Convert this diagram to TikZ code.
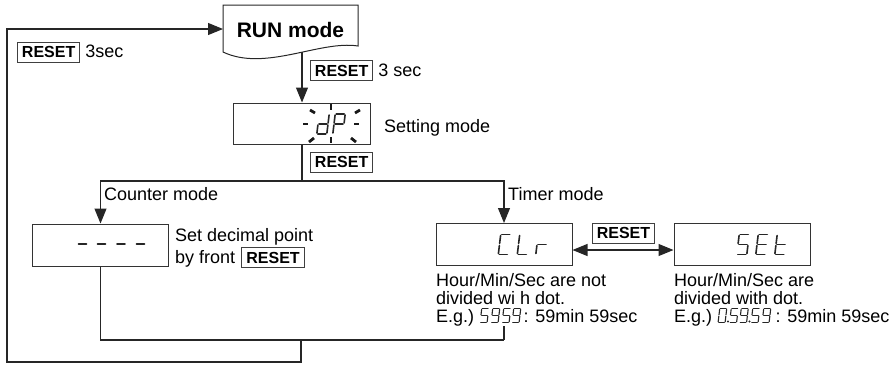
\documentclass[tikz,border=0pt]{standalone}
\usepackage{fontspec}
\setmainfont{Liberation Sans}
\usetikzlibrary{arrows.meta,positioning}
\newcommand{\segA}{(-4,-10)--(4,-10)}
\newcommand{\segB}{(5,-9)--(5,-1)}
\newcommand{\segC}{(5,1)--(5,9)}
\newcommand{\segD}{(-4,10)--(4,10)}
\newcommand{\segE}{(-5,1)--(-5,9)}
\newcommand{\segF}{(-5,-9)--(-5,-1)}
\newcommand{\segG}{(-4,0)--(4,0)}
\newcommand{\segglyph}[3]{%
  \pgfmathsetmacro\seglw{#2*0.08}%
  \edef\seglist{#3}%
  \begin{scope}[shift={(#1)},xslant=0.12,scale=#2/20,line width=\seglw pt,line cap=round,draw=black!85]
    \foreach \s in \seglist {\edef\segpath{\noexpand\draw \csname seg\s\endcsname;}\segpath}
  \end{scope}}
\tikzset{
  every node/.style={inner sep=0pt,font=\fontsize{18}{18}\selectfont},
  flow/.style={draw=black!85,line width=1.1pt},
  arrow/.style={flow,-{Triangle[length=15pt,width=12pt]}},
  twoway/.style={flow,{Triangle[length=15pt,width=12pt]}-{Triangle[length=15pt,width=12pt]}},
  lcdbox/.style={draw=black!80,line width=1pt,minimum width=136pt,minimum height=42pt},
  resetbox/.style={draw=black!75,line width=0.9pt,inner xsep=4.5pt,inner ysep=4.25pt,
    text height=11.5pt,text depth=0pt,font=\fontsize{16}{16}\selectfont\bfseries},
  ray/.style={draw=black!90,line width=2.8pt},
}
\begin{document}
\begin{tikzpicture}[x=1pt,y=-1pt]
\useasboundingbox (0,0) rectangle (896,365);

\node[font=\fontsize{21}{21}\selectfont\bfseries,anchor=base] (run) at (290.5,37.5) {RUN mode};
\draw[flow,line width=1pt] (223,5) -- (358,5) -- (358,46) .. controls (320,40) and (265,72) .. (223,52) -- cycle;
\coordinate (runbot) at (302,52);
\coordinate (runin) at (223,29);

\node[resetbox,anchor=base west] (rst1) at (17,57.75) {RESET};
\node[anchor=base west] (sec1) at ([xshift=5pt]rst1.base east) {3sec};
\node[resetbox,anchor=base west] (rst2) at (310,76) {RESET};
\node[anchor=base west] (sec2) at ([xshift=5pt]rst2.base east) {3 sec};

\node[lcdbox,minimum width=137pt,minimum height=41pt] (setmode) at (302,123.5) {};
\segglyph{323,124}{20}{B,C,D,E,G}
\segglyph{339,124}{20}{A,B,E,F,G}
\foreach \xa/\ya/\xb/\yb in {303/124/308/124,354/124/359/124,331/104/331/110,331/137/331/143,
  310/110/315/113,355/113/360/110,309/142/314/138,351/138/356/142}
  \draw[ray] (\xa,\ya) -- (\xb,\yb);
\node[anchor=base west] (settext) at (384,132.5) {Setting mode};
\node[resetbox,anchor=base west] (rst3) at (310,167.75) {RESET};

\coordinate (split) at (302,181);
\node[anchor=base west] (cnttext) at (104,200.5) {Counter mode};
\node[anchor=base west] (tmrtext) at (508,200.5) {Timer mode};

\node[lcdbox] (cntdisp) at (100.5,245) {};
\foreach \cx in {82.5,101.5,121,140.5} {\segglyph{\cx,244}{20}{G}}
\node[anchor=base west] (decpt) at (175,241.5) {Set decimal point};
\node[anchor=base west] (byfront) at (175,263.5) {by front};
\node[resetbox,anchor=base west] (rst4) at ([xshift=6pt]byfront.base east) {RESET};

\node[lcdbox] (clrdisp) at (504,244.5) {};
\segglyph{504.5,244.5}{20}{A,D,E,F}
\segglyph{523.5,244.5}{20}{D,E,F}
\segglyph{542,244.5}{20}{E,G}
\node[lcdbox] (setdisp) at (742,244.5) {};
\segglyph{743,244.5}{20}{A,C,D,F,G}
\segglyph{762,244.5}{20}{A,D,E,F,G}
\segglyph{781,244.5}{20}{D,E,F,G}
\draw[twoway] ([yshift=-5.5pt]clrdisp.east) -- ([yshift=-5.5pt]setdisp.west);
\node[resetbox] (rst5) at (623.5,233) {RESET};

\node[anchor=base west] (clrn1) at (436,286.5) {Hour/Min/Sec are not};
\node[anchor=base west] (clrn2) at (436,304.5) {divided wi h dot.};
\node[anchor=base west] (clrn3) at (436,322.5) {E.g.)};
\foreach \dx/\segs in {10/{A,F,G,C,D},21/{A,B,C,D,F,G},32/{A,F,G,C,D},42/{A,B,C,D,F,G}}
  {\segglyph{[xshift=\dx pt,yshift=7pt]clrn3.base east}{14}{\segs}}
\node[anchor=base west] (clrn4) at ([xshift=49pt]clrn3.base east) {: 59min 59sec};

\node[anchor=base west] (setn1) at (674,286.5) {Hour/Min/Sec are};
\node[anchor=base west] (setn2) at (674,304.5) {divided with dot.};
\node[anchor=base west] (setn3) at (674,322.5) {E.g.)};
\foreach \dx/\segs in {10/{A,B,C,D,E,F},21.5/{A,F,G,C,D},31.5/{A,B,C,D,F,G},43/{A,F,G,C,D},54/{A,B,C,D,F,G}}
  {\segglyph{[xshift=\dx pt,yshift=7pt]setn3.base east}{14}{\segs}}
\foreach \dx in {15.5,37} {\fill[black!85] ([xshift=\dx pt,yshift=1pt]setn3.base east) circle (1.1pt);}
\node[anchor=base west] (setn4) at ([xshift=63pt]setn3.base east) {: 59min 59sec};

\coordinate (join) at (301,340);
\coordinate (clrtail) at (clrdisp.south |- join);
\coordinate (lowL) at (7,362);
\coordinate (topL) at (7,29);

\draw[arrow] (runbot) -- (setmode.north);
\draw[flow] (setmode.south) -- (split);
\draw[arrow] (split) -| (cntdisp.north);
\draw[arrow] (split) -| (clrdisp.north);
\draw[flow] (cntdisp.south) |- (clrtail);
\draw[flow] (clrn3.south -| clrdisp.south) -- (clrtail);
\draw[arrow] (join) |- (lowL) -- (topL) -- (runin);
\end{tikzpicture}
\end{document}
